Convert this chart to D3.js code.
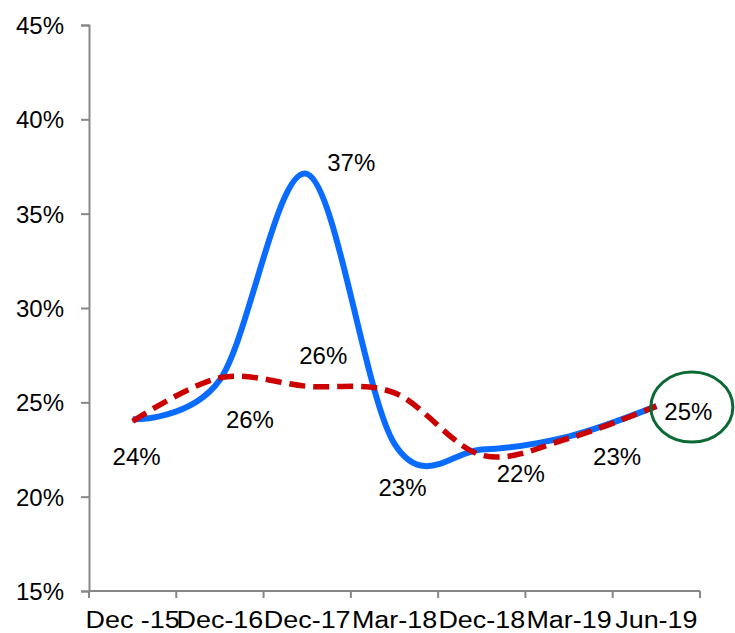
<!DOCTYPE html>
<html>
<head>
<meta charset="utf-8">
<script src="https://cdn.jsdelivr.net/npm/d3@7"></script>
<style>
  html, body { margin: 0; padding: 0; background: #fff; }
  svg text { font-family: "Liberation Sans", Arial, sans-serif; fill: #000; }
</style>
</head>
<body>
<svg id="chart" width="735" height="633"></svg>
<script>
// Period categories along the x axis
const categories = ["Dec -15", "Dec-16", "Dec-17", "Mar-18", "Dec-18", "Mar-19", "Jun-19"];
// Series values, in percent
const blueValues = [24.1, 26.2, 37.1, 22.8, 22.5, 23.2, 24.8];
const redValues  = [24.0, 26.3, 25.85, 25.5, 22.2, 23.1, 24.8];
// Y axis ticks, in percent
const yTicks = [15, 20, 25, 30, 35, 40, 45];
// Data labels: which series and which point each one belongs to
const labelSeries = ["blue", "red", "blue", "red", "blue", "red", "red", "blue"];
const labelIndex  = [0, 1, 2, 2, 3, 4, 5, 6];

const svg = d3.select("#chart");
const plotLeft = 89, plotRight = 700, plotTop = 25, plotBottom = 591;

const x = d3.scaleBand().domain(categories).range([plotLeft, plotRight]).padding(0);
const y = d3.scaleLinear().domain([15, 45]).range([plotBottom, plotTop]);
const cx = c => x(c) + x.bandwidth() / 2;

const axisColor = "#878787";

// Y axis
const yAxis = svg.append("g")
  .attr("transform", `translate(${plotLeft},0)`)
  .call(d3.axisLeft(y).tickValues(yTicks).tickSize(8).tickFormat(d => d + "%"));
yAxis.select(".domain").attr("stroke", axisColor).attr("stroke-width", 2);
yAxis.selectAll(".tick line").attr("stroke", axisColor).attr("stroke-width", 2);
yAxis.selectAll(".tick text")
  .attr("x", -25).attr("dy", "0.36em")
  .style("font-size", "24px").attr("fill", "#000");

// X axis: ticks sit on the category boundaries
const boundaries = categories.map(c => x(c)).concat([plotRight]);
const xg = svg.append("g");
xg.append("line")
  .attr("x1", plotLeft).attr("x2", plotRight).attr("y1", plotBottom).attr("y2", plotBottom)
  .attr("stroke", axisColor).attr("stroke-width", 2);
xg.selectAll("line.tick").data(boundaries).join("line")
  .attr("class", "tick")
  .attr("x1", d => d).attr("x2", d => d)
  .attr("y1", plotBottom).attr("y2", plotBottom + 7)
  .attr("stroke", axisColor).attr("stroke-width", 2);
xg.selectAll("text").data(categories).join("text")
  .attr("transform", d => `translate(${cx(d)},${plotBottom + 37}) scale(1.17,1)`)
  .attr("text-anchor", "middle")
  .style("font-size", "23px")
  .text(d => d);

// Smoothed lines
const line = d3.line()
  .x((d, i) => cx(categories[i]))
  .y(d => y(d))
  .curve(d3.curveCardinal.tension(0));

svg.append("path")
  .datum(blueValues)
  .attr("d", line)
  .attr("fill", "none")
  .attr("stroke", "#0a6cff")
  .attr("stroke-width", 6)
  .attr("stroke-linejoin", "round");

svg.append("path")
  .datum(redValues)
  .attr("d", line)
  .attr("fill", "none")
  .attr("stroke", "#cc0000")
  .attr("stroke-width", 5.5)
  .attr("stroke-dasharray", "16,8");

// Data labels, placed relative to their points
const labelOffsets = [[4, 46], [30, 50], [44, -3], [16, -22], [8, 52], [39, 27], [48, 27], [32, 14]];
const seriesByName = { blue: blueValues, red: redValues };
const labels = labelSeries.map((s, k) => {
  const i = labelIndex[k];
  const v = seriesByName[s][i];
  return { x: cx(categories[i]) + labelOffsets[k][0], y: y(v) + labelOffsets[k][1], text: Math.round(v) + "%" };
});
svg.append("g").selectAll("text").data(labels).join("text")
  .attr("x", d => d.x).attr("y", d => d.y)
  .attr("text-anchor", "middle")
  .style("font-size", "24px")
  .text(d => d.text);

// Highlight ring around the latest value
const last = labels[labels.length - 1];
svg.append("ellipse")
  .attr("cx", last.x + 3.5).attr("cy", last.y - 13)
  .attr("rx", 41).attr("ry", 35)
  .attr("fill", "none")
  .attr("stroke", "#0b6a33")
  .attr("stroke-width", 3);
</script>
</body>
</html>
